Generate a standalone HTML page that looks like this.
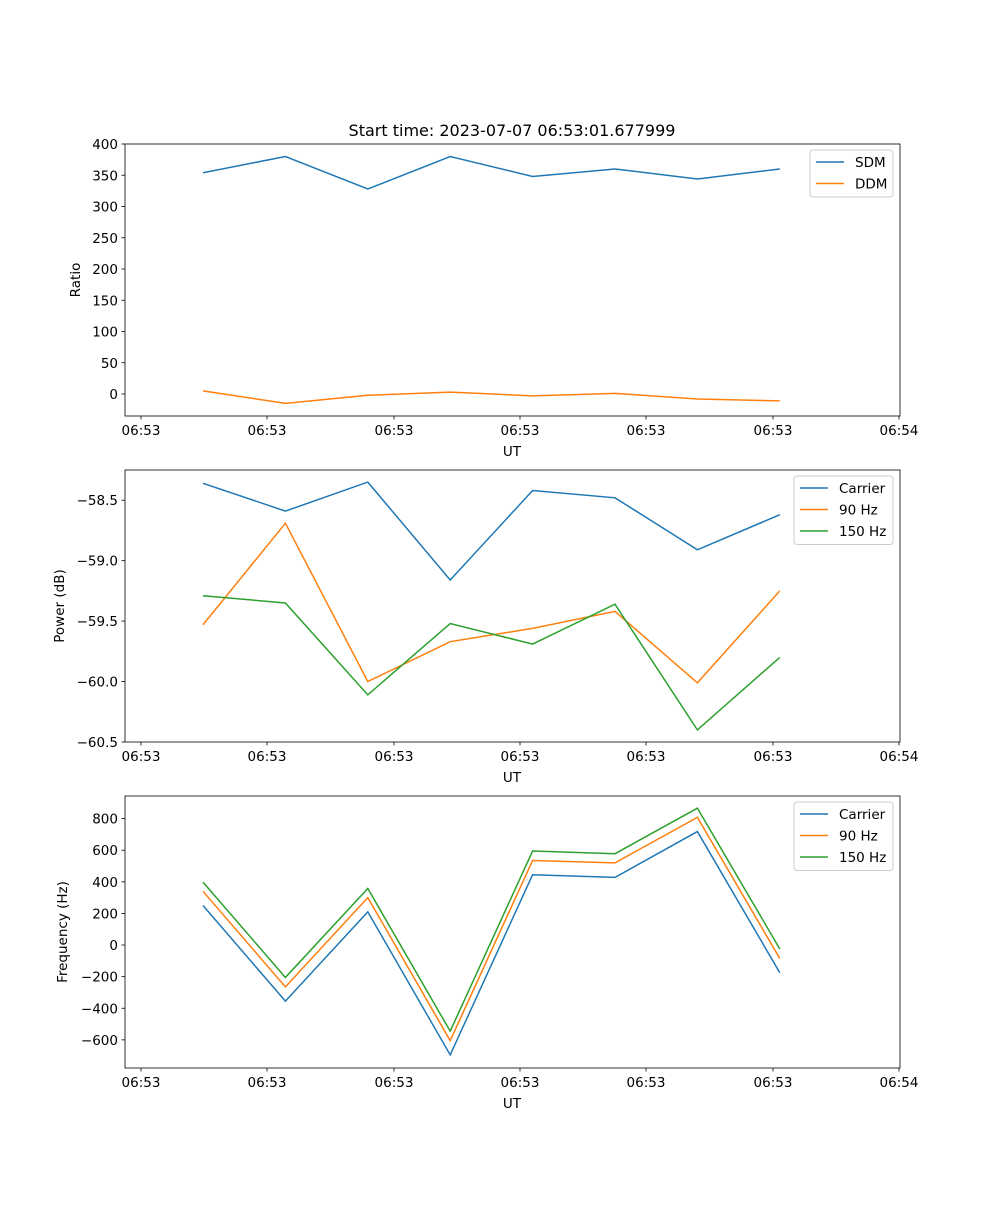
<!DOCTYPE html>
<html><head><meta charset="utf-8"><style>
body{margin:0;background:#fff}
svg text{font-family:"DejaVu Sans","Liberation Sans",sans-serif;font-size:13.5px;fill:#000}
</style></head><body>
<svg id="fig" width="1000" height="1200"></svg>
<script>
const xLabels=["06:53","06:53","06:53","06:53","06:53","06:53","06:54"];
const pointIdx=[0,1,2,3,4,5,6,7];
const sdm=[354,380,328,380,348,360,344,360];
const ddm=[5,-15,-2,3,-3,1,-8,-11];
const pwrCarrier=[-58.36,-58.59,-58.35,-59.16,-58.42,-58.48,-58.91,-58.62];
const pwr90=[-59.53,-58.69,-60.0,-59.67,-59.56,-59.42,-60.01,-59.25];
const pwr150=[-59.29,-59.35,-60.11,-59.52,-59.69,-59.36,-60.40,-59.80];
const frqCarrier=[250,-355,210,-695,445,428,718,-175];
const frq90=[340,-265,300,-605,535,520,808,-85];
const frq150=[398,-205,358,-545,595,578,866,-25];
const ticks1=[0,50,100,150,200,250,300,350,400];
const ticks2=[-60.5,-60.0,-59.5,-59.0,-58.5];
const ticks3=[-600,-400,-200,0,200,400,600,800];

const NS="http://www.w3.org/2000/svg";
const svg=document.getElementById('fig');
function mk(t,a,p){const e=document.createElementNS(NS,t);for(const k in a)e.setAttribute(k,a[k]);(p||svg).appendChild(e);return e;}
const L=125,R=900;
const xOf=i=>203+i*82.4;
const xTickPos=[141,267,394,520,646,773,899];
const C=["#1f77b4","#ff7f0e","#2ca02c"];

function panel(name,top,ymin,ymax,ticks,fmt,ylabel,series,names,leg){
  const bot=top+272;
  const g=mk('g',{});
  
  
  const y=v=>bot-(v-ymin)/(ymax-ymin)*272;
  series.forEach((s,k)=>{
    const pl=mk('polyline',{points:pointIdx.map(i=>xOf(i)+','+y(s[i])).join(' '),fill:'none',stroke:C[k],'stroke-width':1.5},g);
    
    
  });
  mk('rect',{x:L,y:top,width:R-L,height:272,fill:'none',stroke:'#000','stroke-width':0.8},g);
  ticks.forEach(v=>{
    const yy=y(v);
    mk('line',{x1:L-3.5,x2:L,y1:yy,y2:yy,stroke:'#000','stroke-width':0.8},g);
    const t=mk('text',{x:L-7,y:yy+5,'text-anchor':'end'},g);t.textContent=fmt(v);
    
    
  });
  xLabels.forEach((lb,i)=>{
    const xx=xTickPos[i];
    mk('line',{x1:xx,x2:xx,y1:bot,y2:bot+3.5,stroke:'#000','stroke-width':0.8},g);
    const t=mk('text',{x:xx,y:bot+19,'text-anchor':'middle'},g);t.textContent=lb;
    
    
  });
  const xl=mk('text',{x:512,y:bot+40,'text-anchor':'middle'},g);xl.textContent='UT';
  
  
  const yl=mk('text',{x:0,y:0,'text-anchor':'middle',transform:`translate(${leg.yx},${top+136}) rotate(-90)`},g);yl.textContent=ylabel;
  
  
  const lg=mk('g',{},g);
  
  
  const h=names.length*21.5+4;
  mk('rect',{x:leg.x,y:top+6,width:893-leg.x,height:h,fill:'#fff',stroke:'#ccc',rx:3},lg);
  names.forEach((n,k)=>{
    const yy=top+18+k*21.5;
    mk('line',{x1:leg.x+6,x2:leg.x+34,y1:yy,y2:yy,stroke:C[k],'stroke-width':1.5},lg);
    const t=mk('text',{x:leg.x+45,y:yy+5},lg);t.textContent=n;
    
    
  });
}
const title=mk('text',{x:512,y:136,'text-anchor':'middle','font-size':'16px',style:'font-size:16px'});
title.textContent='Start time: 2023-07-07 06:53:01.677999';


panel('ratio-panel',144,-35.2,400,ticks1,v=>String(v),'Ratio',[sdm,ddm],['SDM','DDM'],{x:810,yx:80});
panel('power-panel',470,-60.5,-58.25,ticks2,v=>(v<0?'\u2212':'')+Math.abs(v).toFixed(1),'Power (dB)',[pwrCarrier,pwr90,pwr150],['Carrier','90 Hz','150 Hz'],{x:794,yx:64});
panel('frequency-panel',796,-778,943,ticks3,v=>(v<0?'\u2212':'')+Math.abs(v),'Frequency (Hz)',[frqCarrier,frq90,frq150],['Carrier','90 Hz','150 Hz'],{x:794,yx:67});
</script>
</body></html>
